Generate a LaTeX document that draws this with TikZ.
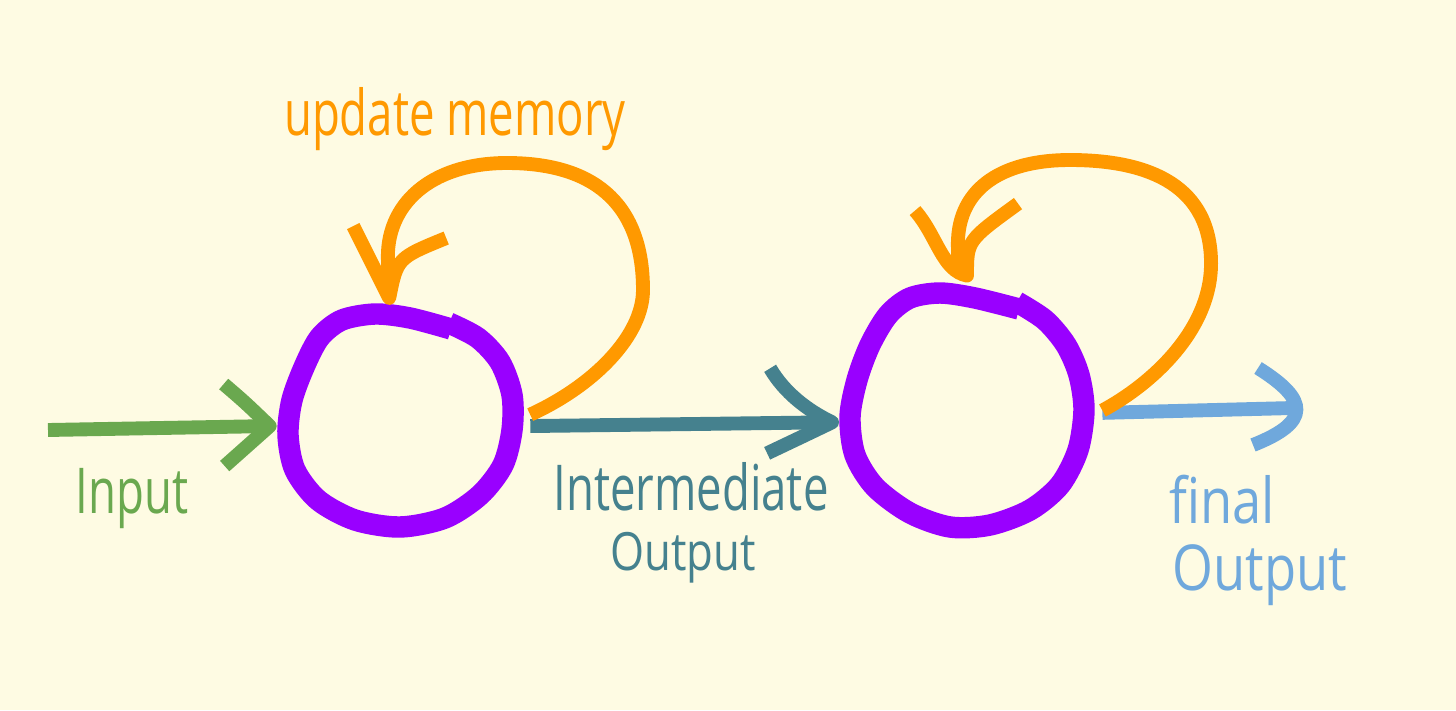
\documentclass[tikz,border=0pt]{standalone}
\usepackage{fontspec}
\newfontfamily\hand[FakeStretch=0.72]{Open Sans}
\newfontfamily\handw[FakeStretch=0.83]{Open Sans}
\usetikzlibrary{calc,shapes.geometric}
\definecolor{bgc}{HTML}{FEFBE3}
\definecolor{ringc}{HTML}{9900FF}
\definecolor{orangec}{HTML}{FF9900}
\definecolor{greenc}{HTML}{6AA84F}
\definecolor{tealc}{HTML}{45818E}
\definecolor{bluec}{HTML}{6FA8DC}
\begin{document}
\begin{tikzpicture}[x=0.02cm,y=-0.02cm,
  stroke/.style={line width=7.9pt,line cap=butt,line join=round},
  ring/.style={line width=12.2pt,draw=ringc,line cap=butt,line join=round},
  hub/.style={ellipse,draw=none,inner sep=0pt,outer sep=10.2pt},
  lbl/.style={anchor=base,inner sep=0pt,font=\hand\fontsize{36}{40}\selectfont},
  lblw/.style={anchor=base,inner sep=0pt,font=\handw\fontsize{36}{40}\selectfont},
  lbls/.style={anchor=base,inner sep=0pt,font=\handw\fontsize{30}{33}\selectfont}]
\fill[bgc] (0,0) rectangle (1456,710);
\useasboundingbox (0,0) rectangle (1456,710);

% hubs (state circles)
\node[hub,minimum width=4.5cm,minimum height=4.24cm] (c1) at (400,421.5) {};
\node[hub,minimum width=4.7cm,minimum height=4.68cm] (c2) at (967,410.5) {};
\draw[ring] plot[smooth] coordinates {(449,323) (478,338) (500,362) (512,395) (512,430) (503,465) (480,495) (445,518) (400,527) (355,520) (318,500) (295,470) (288,435) (292,400) (305,365) (320,337) (342,320) (375,314) (410,318) (451,329)};
\draw[ring] plot[smooth] coordinates {(1017,302) (1045,320) (1066,345) (1079,375) (1084,410) (1078,450) (1060,485) (1030,510) (990,525) (950,527) (910,513) (875,487) (855,455) (850,417) (857,380) (870,345) (888,315) (910,298) (940,293) (975,298) (1019,309)};

% free ends and tips
\coordinate (gin) at (48,430);
\coordinate (bout) at (1293,408);
\path (c1.182) coordinate (gtip);
\path (c2.185) coordinate (ttip);
\path (c1.95) coordinate (otip1);
\path (c2.90) coordinate (otip2);

% input arrow
\draw[stroke,greenc] (gin) -- (gtip);
\draw[stroke,greenc] ($(gtip)+(-46,-42)$) .. controls ($(gtip)+(-25,-24)$) .. (gtip) .. controls ($(gtip)+(-22,20)$) .. ($(gtip)+(-45,40)$);

% intermediate output arrow
\draw[stroke,tealc] (c1.358) -- (ttip);
\draw[stroke,tealc] ($(ttip)+(-62,-54)$) .. controls ($(ttip)+(-48,-30)$) and ($(ttip)+(-25,-12)$) .. (ttip) .. controls ($(ttip)+(-25,12)$) .. ($(ttip)+(-65,31)$);

% final output arrow
\draw[stroke,bluec] (c2.359) -- (bout);
\draw[stroke,bluec] ($(bout)+(-35,-40)$) .. controls ($(bout)+(16,-8)$) and ($(bout)+(18,14)$) .. ($(bout)+(-40,37)$);

% memory loop 1
\draw[stroke,orangec] (c1.3) .. controls (595,385) and (643,335) .. (643,290)
  .. controls (643,200) and (590,163) .. (507,163)
  .. controls (430,163) and (385,205) .. (388,262)
  .. controls (389,280) .. (otip1);
\draw[stroke,orangec] ($(otip1)+(-36,-72)$) -- (otip1) .. controls ($(otip1)+(8,-40)$) .. ($(otip1)+(57,-60)$);

% memory loop 2
\draw[stroke,orangec] (c2.0) .. controls (1150,385) and (1213,330) .. (1211,260)
  .. controls (1209,180) and (1140,160) .. (1070,160)
  .. controls (1000,160) and (955,190) .. (958,250)
  .. controls (958,262) .. (otip2);
\draw[stroke,orangec] ($(otip2)+(-52,-65)$) .. controls ($(otip2)+(-30,-40)$) and ($(otip2)+(-25,-5)$) .. (otip2) .. controls ($(otip2)+(0,-35)$) .. ($(otip2)+(51,-72)$);

% labels
\node[lbl,text=greenc] (tin) at (132,513) {Input};
\node[lbl,text=orangec] (tmem) at (455,135) {update memory};
\node[lbl,text=tealc] (tint) at (691,510) {Intermediate};
\node[lbls,text=tealc] (tout1) at (683,570) {Output};
\node[lblw,text=bluec] (tfin) at (1222,523) {final};
\node[lblw,text=bluec] (tout2) at (1260,590) {Output};
\end{tikzpicture}
\end{document}
